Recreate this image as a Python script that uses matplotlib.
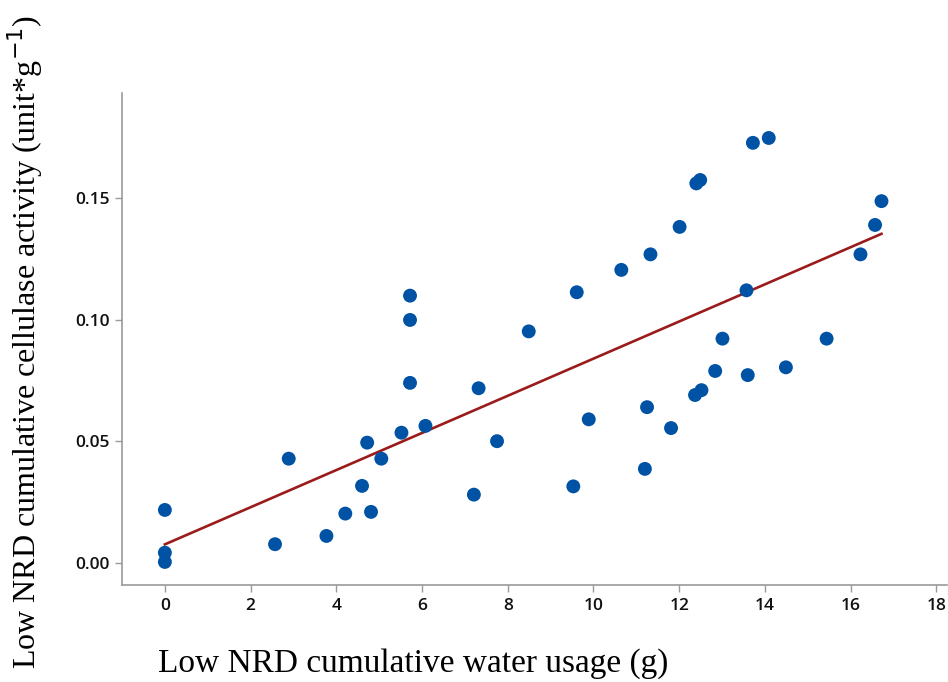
import matplotlib
matplotlib.use("Agg")
import matplotlib.pyplot as plt
import numpy as np

# ── Data: cumulative water usage (g) vs cumulative cellulase activity ────────
water = [0.0, 0.0, 0.0, 2.57, 2.89, 3.77, 4.21, 4.60, 4.72, 4.81,
         5.05, 5.52, 5.72, 5.72, 5.72, 6.08, 7.21, 7.32, 7.75, 8.49,
         9.53, 9.61, 9.89, 10.65, 11.20, 11.25, 11.33, 11.81, 12.01, 12.37,
         12.40, 12.49, 12.52, 12.84, 13.01, 13.57, 13.60, 13.72, 14.09, 14.49,
         15.44, 16.23, 16.57, 16.72]
activity = [0.0217, 0.0041, 0.0003, 0.0076, 0.0428, 0.0110, 0.0202, 0.0316, 0.0494, 0.0209,
            0.0428, 0.0535, 0.1099, 0.0999, 0.0740, 0.0563, 0.0280, 0.0718, 0.0500, 0.0952,
            0.0314, 0.1113, 0.0590, 0.1205, 0.0386, 0.0640, 0.1269, 0.0554, 0.1382, 0.0690,
            0.1561, 0.1575, 0.0710, 0.0789, 0.0922, 0.1121, 0.0772, 0.1728, 0.1748, 0.0804,
            0.0922, 0.1269, 0.1390, 0.1488]

x_ticks = [0, 2, 4, 6, 8, 10, 12, 14, 16, 18]
y_ticks = [0.00, 0.05, 0.10, 0.15]

x = np.array(water)
y = np.array(activity)
# least-squares trend line
slope, intercept = np.polyfit(x, y, 1)

fig = plt.figure(figsize=(9.48, 6.82), dpi=100)
ax = fig.add_axes([0.1287, 0.1422, 0.8703, 0.7214])

ax.scatter(x, y, s=100, color="#0052A5", edgecolors="none", zorder=3)
xf = np.array([x.min(), x.max()])
ax.plot(xf, intercept + slope * xf, color="#9B1B1B", lw=1.9, zorder=2)

ax.set_xlim(-1.0, 18.25)
ax.set_ylim(-0.0092, 0.1933)
ax.set_xticks(x_ticks)
ax.set_yticks(y_ticks)
ax.set_yticklabels([f"{v:.2f}" for v in y_ticks])

for side in ("top", "right"):
    ax.spines[side].set_visible(False)
for side in ("left", "bottom"):
    ax.spines[side].set_color("#9a9a9a")
    ax.spines[side].set_linewidth(1.2)

ax.tick_params(axis="both", length=5, width=1, color="#9a9a9a",
               labelsize=12.5, labelcolor="#111111", pad=4)
for lbl in ax.get_xticklabels() + ax.get_yticklabels():
    lbl.set_family("Open Sans")
    lbl.set_fontweight("semibold")

ax.set_xlabel("Low NRD cumulative water usage (g)", family="Liberation Serif",
              fontsize=24)
ax.xaxis.set_label_coords(0.353, -0.128)
ax.set_ylabel("Low NRD cumulative cellulase activity (unit*g$^{-1}$)",
              family="Liberation Serif", fontsize=23)
ax.yaxis.set_label_coords(-0.093, 0.494)

fig.savefig("out.png", dpi=100)
